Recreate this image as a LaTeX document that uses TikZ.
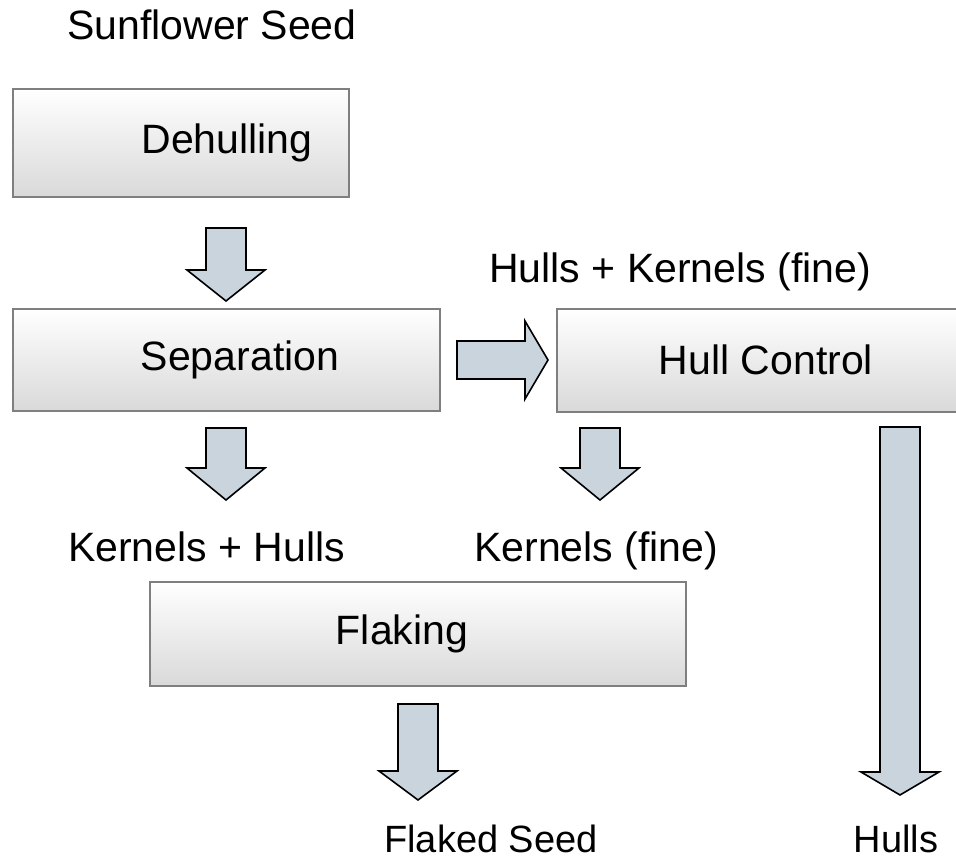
\documentclass[tikz,border=0pt]{standalone}
\usepackage{fontspec}
\setmainfont{Liberation Sans}
\definecolor{boxborder}{HTML}{7F7F7F}
\definecolor{boxbot}{HTML}{D9D9D9}
\definecolor{arrfill}{HTML}{C9D4DD}
\newcommand\blockdn[5]{%
  \draw[blk] ({#1-20},#2) coordinate (#5) -- ({#1+20},#2) -- ({#1+20},#3) -- ({#1+39},#3) -- (#1,#4) -- ({#1-39},#3) -- ({#1-20},#3) -- cycle;}
\begin{document}
\begin{tikzpicture}[x=1pt,y=-1pt,
  box/.style={draw=boxborder, line width=2pt, top color=white, bottom color=boxbot, rectangle, inner sep=0pt},
  lbl/.style={font=\fontsize{41}{47}\selectfont, inner sep=0pt},
  txt/.style={font=\fontsize{41}{47}\selectfont, inner sep=0pt, anchor=base west},
  btxt/.style={font=\fontsize{38}{44}\selectfont, inner sep=0pt, anchor=base},
  blk/.style={draw=black, line width=1.6pt, fill=arrfill, line join=miter}]
\useasboundingbox (0,0) rectangle (956,861);
\clip (0,0) rectangle (956,861);
\fill[white] (0,0) rectangle (956,861);

% boxes
\node[box, minimum width=336pt, minimum height=108pt] (deh) at (181,143) {};
\node[lbl] (dehl) at (227,143) {Dehulling};
\node[box, minimum width=427pt, minimum height=102pt] (sep) at (226.5,360) {};
\node[lbl] (sepl) at (240,360) {Separation};
\node[box, minimum width=403pt, minimum height=103pt] (hc) at (758.5,360.5) {};
\node[lbl] (hcl) at (766,360) {Hull Control};
\node[box, minimum width=536pt, minimum height=104pt] (flk) at (418,634) {};
\node[lbl] (flkl) at (402,634) {Flaking};

% texts
\node[txt] (t1) at (67,40) {Sunflower Seed};
\node[txt] (t2) at (489,283) {Hulls + Kernels (fine)};
\node[txt] (t3) at (68,561) {Kernels + Hulls};
\node[txt] (t4) at (474,561) {Kernels (fine)};
\node[btxt] (t5) at (491,852) {Flaked Seed};
\node[btxt] (t6) at (896,852) {Hulls};

% block arrows
\blockdn{226}{228}{270}{301}{a1}
\blockdn{226}{428}{468}{500}{a2}
\blockdn{600}{428}{468}{500}{a3}
\blockdn{418}{704}{771}{800}{a4}
\blockdn{900}{427}{772}{795}{a5}
\draw[blk] (457,341) coordinate (a6) -- (525,341) -- (525,321) -- (548,360) -- (525,399) -- (525,379) -- (457,379) -- cycle;
\end{tikzpicture}
\end{document}
